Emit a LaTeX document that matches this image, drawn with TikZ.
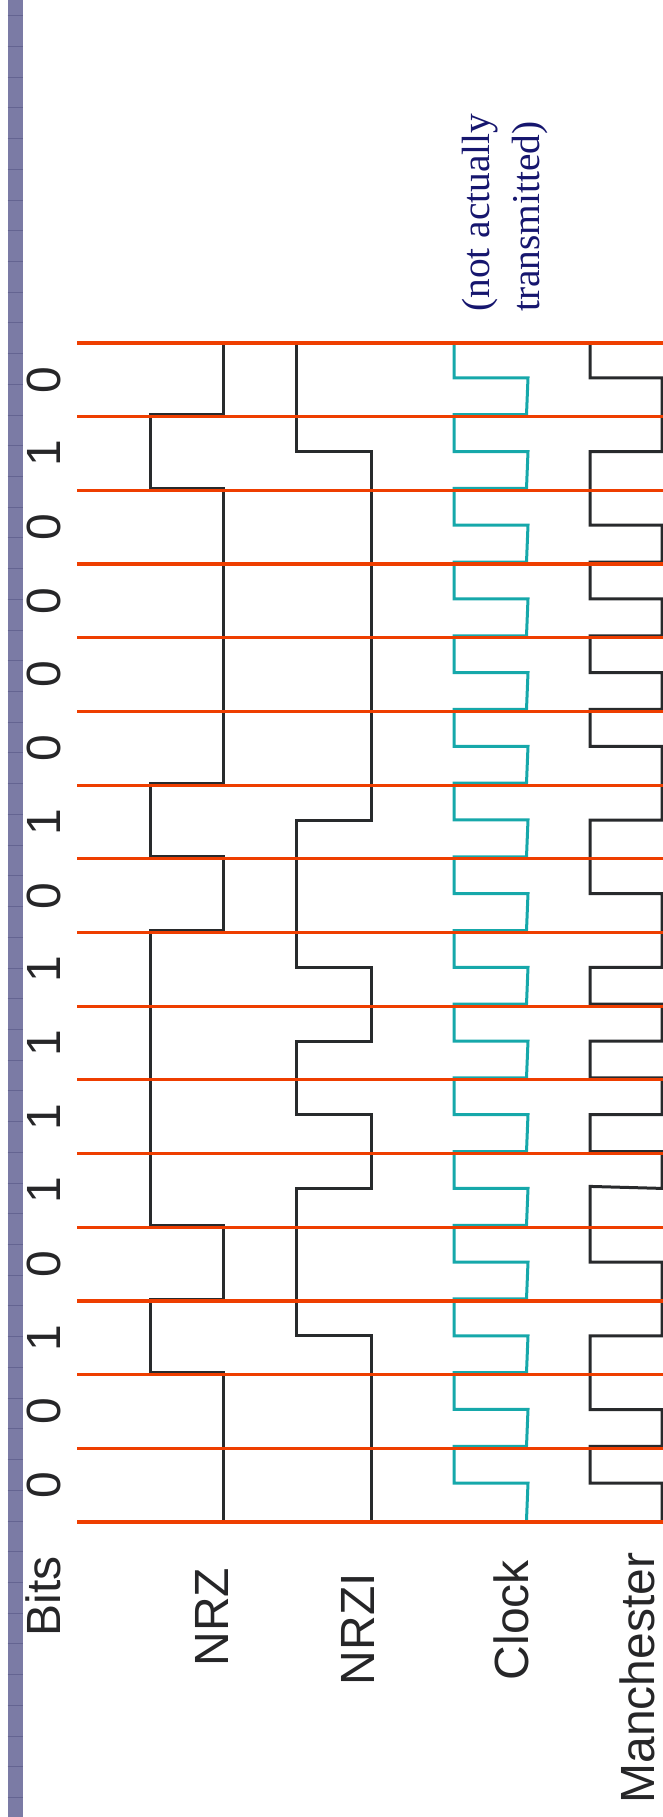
\documentclass[tikz,border=0pt]{standalone}
\usepackage{fontspec}
\setmainfont{Liberation Sans}
\newfontfamily\notefont{Liberation Serif}
\definecolor{barblue}{RGB}{123,123,165}
\definecolor{tickblue}{RGB}{100,100,145}
\definecolor{redline}{RGB}{238,62,0}
\definecolor{clockteal}{RGB}{22,168,170}
\definecolor{waveblack}{RGB}{40,42,44}
\definecolor{notenavy}{RGB}{22,22,110}
\definecolor{labelgrey}{RGB}{38,38,40}
\tikzset{
  gridline/.style={draw=redline, line width=1.6pt},
  wave/.style={draw=waveblack, line width=1.5pt, line join=miter},
  clockwave/.style={draw=clockteal, line width=1.5pt, line join=miter},
  bartick/.style={draw=tickblue, line width=0.5pt},
  biglabel/.style={rotate=90, anchor=base, inner sep=0pt, text=labelgrey,
    font=\fontsize{24}{28}\selectfont},
  notetext/.style={rotate=90, anchor=base west, inner sep=0pt, text=notenavy,
    font=\notefont\fontsize{19.7}{24}\selectfont}
}
\begin{document}
\begin{tikzpicture}[x=0.5pt,y=-0.5pt]
\useasboundingbox (0,0) rectangle (663,1817);
\clip (0,0) rectangle (663,1817);
% left bar
\fill[barblue] (7.5,0) rectangle (22.5,1817);
\foreach \k in {0,...,58}
  \draw[bartick] (7.5,{15.7+30.72*\k}) -- (22.5,{15.7+30.72*\k});

% NRZ
\draw[wave, yshift=1pt] (223,343) -- (223,416.7) -- (150,416.7) -- (150,490.4)
  -- (223,490.4) -- (223,785.1) -- (150,785.1) -- (150,858.8) -- (223,858.8)
  -- (223,932.5) -- (150,932.5) -- (150,1227.3) -- (223,1227.3) -- (223,1301)
  -- (150,1301) -- (150,1374.6) -- (223,1374.6) -- (223,1522);

% NRZI
\draw[wave, yshift=1pt] (296,343) -- (296,453.5) -- (371,453.5) -- (371,822)
  -- (296,822) -- (296,969.4) -- (371,969.4) -- (371,1043) -- (296,1043)
  -- (296,1116.7) -- (371,1116.7) -- (371,1190.4) -- (296,1190.4)
  -- (296,1337.8) -- (371,1337.8) -- (371,1522);

% Clock
\def\clockpath{(454,343)}
\foreach \i in {0,...,15}{
  \pgfmathsetmacro\ym{343+73.6875*(\i+0.5)}
  \pgfmathsetmacro\yb{343+73.6875*(\i+1)}
  \xdef\clockpath{\clockpath -- (454,\ym) -- (528,\ym) -- (526.5,\yb)}
  \ifnum\i<15 \xdef\clockpath{\clockpath -- (454,\yb)}\fi
}
\draw[clockwave, yshift=1pt] \clockpath;

% Manchester
\draw[wave, yshift=1pt] (590,343) -- (590,379.8) -- (662,379.8) -- (662,453.5)
  -- (590,453.5) -- (590,527.2) -- (662,527.2) -- (662,564.1) -- (590,564.1)
  -- (590,600.9) -- (662,600.9) -- (662,637.8) -- (590,637.8) -- (590,674.6)
  -- (662,674.6) -- (662,711.4) -- (590,711.4) -- (590,748.3) -- (662,748.3)
  -- (662,822) -- (590,822) -- (590,895.7) -- (662,895.7) -- (662,969.4)
  -- (590,969.4) -- (590,1006.2) -- (662,1006.2) -- (662,1043) -- (590,1043)
  -- (590,1079.9) -- (662,1079.9) -- (662,1116.7) -- (590,1116.7)
  -- (590,1153.6) -- (662,1153.6) -- (662,1190.4) -- (590,1188.4)
  -- (590,1264.1) -- (662,1264.1) -- (662,1337.8) -- (590,1337.8)
  -- (590,1411.5) -- (662,1411.5) -- (662,1448.3) -- (590,1448.3)
  -- (590,1485.2) -- (662,1485.2) -- (662,1522);

% red bit boundaries (on top)
\foreach \i in {0,...,16}
  \draw[gridline] (77,{343+73.6875*\i}) -- (663,{343+73.6875*\i});

% bit values
\foreach \b [count=\i from 0] in {0,1,0,0,0,0,1,0,1,1,1,1,0,1,0,0}
  \node[biglabel] (bit\i) at (61,{343+73.6875*(\i+0.5)}) {\b};

% row labels
\node[biglabel] (lbits) at (61,1596) {Bits};
\node[biglabel] (lnrz) at (228,1617) {NRZ};
\node[biglabel] (lnrzi) at (374,1629) {NRZI};
\node[biglabel] (lclock) at (528,1620) {Clock};
\node[biglabel] (lman) at (654,1678) {Manchester};

% note
\node[notetext] (note1) at (489,312) {(not actually};
\node[notetext] (note2) at (539,312) {transmitted)};
\end{tikzpicture}
\end{document}
